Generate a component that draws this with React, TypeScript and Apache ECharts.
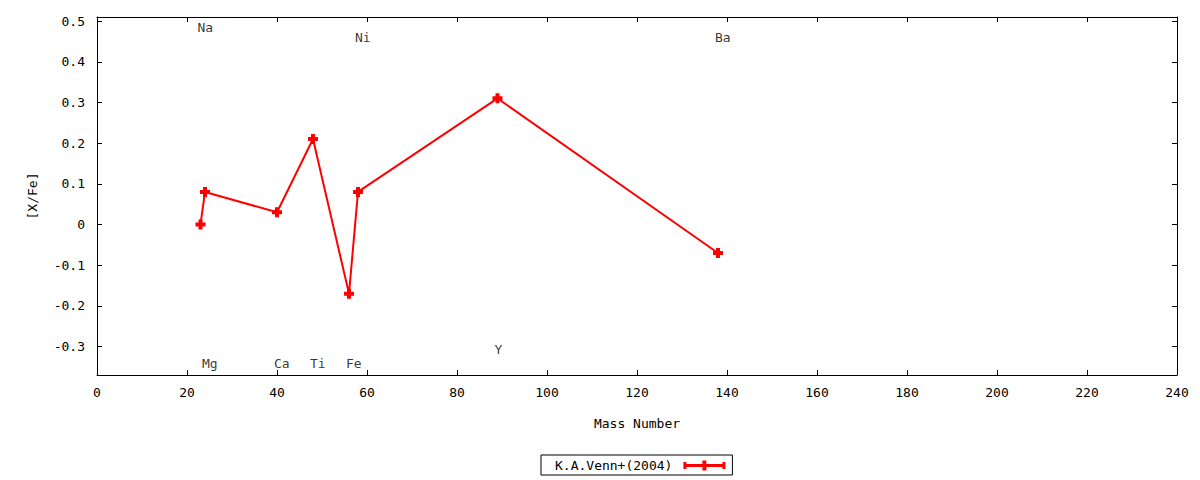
import React, { useEffect, useRef } from "react";
import * as echarts from "echarts";

// ---- data ----
const elements = ["Na", "Mg", "Ca", "Ti", "Fe", "Ni", "Y", "Ba"];
const massNumbers = [23, 24, 40, 48, 56, 58, 89, 138];
const xFeValues = [0.0, 0.08, 0.03, 0.21, -0.17, 0.08, 0.31, -0.07];
const elementLabelY = [0.484, -0.341, -0.341, -0.341, -0.341, 0.459, -0.307, 0.459];
const yTickValues = [-0.3, -0.2, -0.1, 0, 0.1, 0.2, 0.3, 0.4, 0.5];
const seriesName = "K.A.Venn+(2004)";
const xAxisTitle = "Mass Number";
const yAxisTitle = "[X/Fe]";

const FONT = "DejaVu Sans Mono";
const RED = "#ff0000";
const PLUS = "path://M3,0H7V3H10V7H7V10H3V7H0V3H3Z";
const LEGEND_ICON =
  "path://M0,1.5H3V3.5H19V0H23V3.5H39V1.5H42V8.5H39V6.5H23V10H19V6.5H3V8.5H0Z";

export default function App() {
  const ref = useRef<HTMLDivElement>(null);

  useEffect(() => {
    if (!ref.current) return;
    const chart = echarts.init(ref.current, undefined, { renderer: "svg" });

    const lineData = massNumbers.map((m, i) => [m, xFeValues[i]]);
    const labelData = massNumbers.map((m, i) => ({
      value: [m, elementLabelY[i]],
      name: elements[i],
    }));

    const axisLineStyle = { show: true, lineStyle: { color: "#000", width: 1 } };
    const tickStyle = { show: true, inside: true, length: 5, lineStyle: { color: "#000", width: 1 } };
    const yFmt = (v: number) => String(Math.round(v * 10) / 10);

    chart.setOption({
      animation: false,
      textStyle: { fontFamily: FONT },
      grid: { left: 97, right: 23, top: 17, bottom: 105, containLabel: false },
      legend: {
        left: 541,
        top: 455,
        orient: "horizontal",
        align: "right",
        borderColor: "#000",
        borderWidth: 1,
        borderRadius: 0,
        padding: [4, 7, 3, 14],
        itemWidth: 42,
        itemHeight: 10,
        textStyle: { fontFamily: FONT, fontSize: 13, color: "#000", padding: [0, 6, 0, 0] },
        data: [{ name: seriesName, icon: LEGEND_ICON, itemStyle: { color: RED } }],
      },
      xAxis: [
        {
          type: "value",
          min: 0,
          max: 240,
          interval: 20,
          position: "bottom",
          name: xAxisTitle,
          nameLocation: "middle",
          nameGap: 42,
          nameTextStyle: { fontFamily: FONT, fontSize: 13, color: "#000" },
          axisLine: { ...axisLineStyle, onZero: false },
          axisTick: tickStyle,
          axisLabel: {
            show: true,
            margin: 11,
            fontFamily: FONT,
            fontSize: 13,
            color: "#000",
            showMinLabel: true,
            showMaxLabel: true,
          },
          splitLine: { show: false },
        },
        {
          type: "value",
          min: 0,
          max: 240,
          interval: 20,
          position: "top",
          axisLine: { ...axisLineStyle, onZero: false },
          axisTick: tickStyle,
          axisLabel: { show: false },
          splitLine: { show: false },
        },
      ],
      yAxis: [
        {
          type: "value",
          min: -0.37,
          max: 0.51,
          position: "left",
          name: yAxisTitle,
          nameLocation: "middle",
          nameGap: 58,
          nameRotate: 90,
          nameTextStyle: { fontFamily: FONT, fontSize: 13, color: "#000" },
          axisLine: { ...axisLineStyle, onZero: false },
          axisTick: { ...tickStyle, customValues: yTickValues },
          axisLabel: {
            show: true,
            margin: 12,
            fontFamily: FONT,
            fontSize: 13,
            color: "#000",
            customValues: yTickValues,
            formatter: yFmt,
          },
          splitLine: { show: false },
        },
        {
          type: "value",
          min: -0.37,
          max: 0.51,
          position: "right",
          axisLine: { ...axisLineStyle, onZero: false },
          axisTick: { ...tickStyle, customValues: yTickValues },
          axisLabel: { show: false, customValues: yTickValues },
          splitLine: { show: false },
        },
      ],
      series: [
        {
          name: "elementLabels",
          type: "scatter",
          xAxisIndex: 0,
          yAxisIndex: 0,
          symbol: "circle",
          symbolSize: 1,
          itemStyle: { color: "transparent" },
          silent: true,
          label: {
            show: true,
            position: "inside",
            align: "left",
            verticalAlign: "middle",
            offset: [-3, 0],
            formatter: (p: any) => p.name,
            fontFamily: FONT,
            fontSize: 13,
            color: "#000",
          },
          data: labelData,
          z: 1,
        },
        {
          name: seriesName,
          type: "line",
          xAxisIndex: 0,
          yAxisIndex: 0,
          data: lineData,
          symbol: PLUS,
          symbolSize: 10,
          showAllSymbol: true,
          lineStyle: { color: RED, width: 2 },
          itemStyle: { color: RED },
          z: 3,
        },
      ],
    });

    return () => chart.dispose();
  }, []);

  return (
    <div
      ref={ref}
      style={{ position: "fixed", left: 0, top: 0, width: 1200, height: 480, background: "#fff" }}
    />
  );
}
